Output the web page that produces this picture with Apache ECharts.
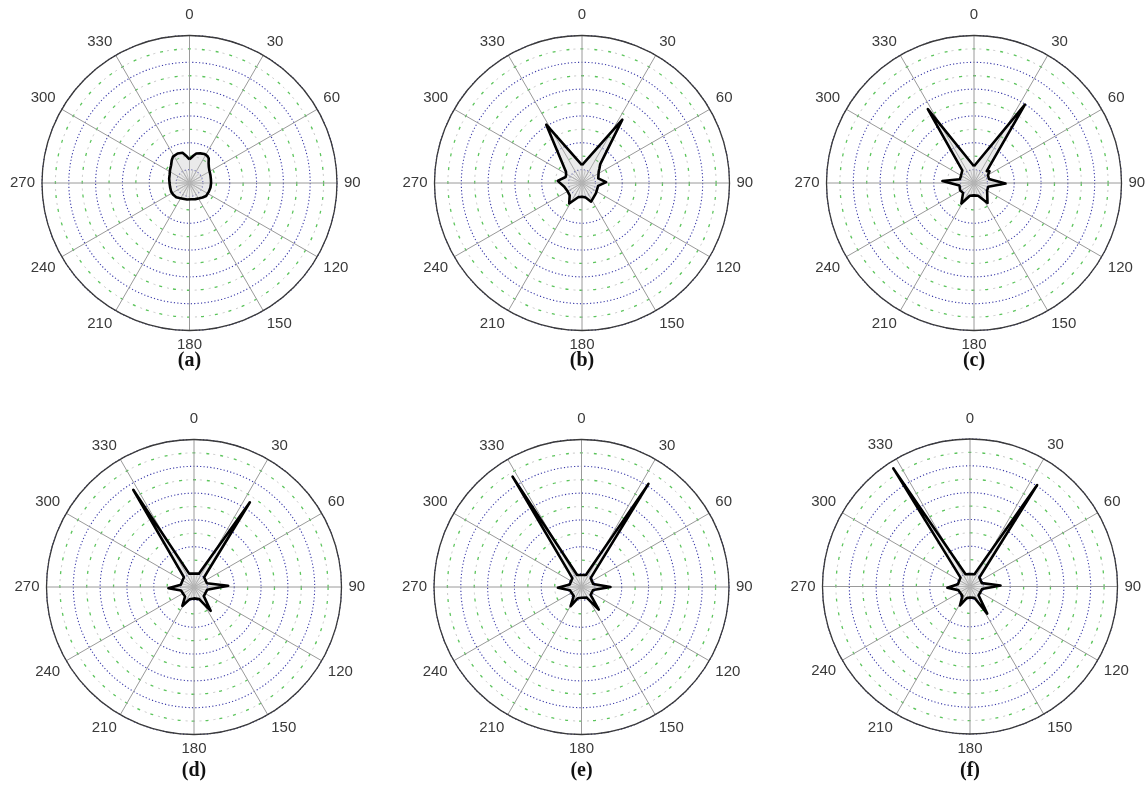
<!DOCTYPE html>
<html><head><meta charset="utf-8">
<script src="https://cdn.jsdelivr.net/npm/echarts@6/dist/echarts.min.js"></script>
<style>html,body{margin:0;padding:0;background:#fff}#c{width:1145px;height:785px}</style>
</head><body><div id="c"></div>
<script>
// Angle tick labels (degrees, clockwise from top)
const angleTicks = [0, 30, 60, 90, 120, 150, 180, 210, 240, 270, 300, 330];
const panelLabels = ['(a)', '(b)', '(c)', '(d)', '(e)', '(f)'];
const radiusMax = 11;

// Outline vertices of each panel: [angle in degrees, radius]
const plotA = [[0,1.76],[8,2.05],[13,2.26],[20,2.35],[27,2.43],[33,2.42],[38,2.33],[44,2.05],[50,1.88],[58,1.75],[69,1.67],[80,1.62],[90,1.61],[102,1.6],[114,1.58],[128,1.57],[138,1.45],[147,1.36],[160,1.28],[174,1.22],[188,1.24],[203,1.27],[214,1.35],[223,1.45],[235,1.5],[245,1.51],[258,1.48],[270,1.49],[282,1.55],[292,1.6],[304,1.75],[314,1.91],[322,2.15],[328,2.32],[338,2.37],[347,2.31],[354,2.0]];
const plotB = [[0,1.34],[32.5,5.6],[44,1.96],[50,1.7],[56,1.5],[74,1.26],[88,1.8],[100,1.22],[126,1.29],[154,1.55],[166,1.12],[180,1.02],[195,1.1],[212,1.8],[225,1.3],[240,1.24],[258,1.35],[275,1.82],[290,1.3],[297,1.33],[305,1.46],[328.5,5.1]];
const plotC = [[0,1.25],[33,6.97],[47,1.3],[53,1.45],[60,1.2],[75,1.15],[91,2.35],[105,1.1],[120,1.13],[146,1.8],[162,1.0],[180,0.92],[198,1.0],[211.5,1.8],[228,1.1],[242,1.17],[260,1.1],[273.5,2.36],[285,1.1],[294,1.09],[317,1.28],[328,6.5]];
const plotD = [[0,1.0],[20,1.06],[33.4,7.57],[46,1.05],[74,1.0],[88,2.55],[102,1.0],[133,1.0],[145,2.17],[157,0.98],[180,0.85],[200,0.98],[211.6,1.66],[223,0.98],[255,1.0],[267,1.91],[280,1.0],[314,1.05],[328,8.55],[340,1.06]];
const plotE = [[0,0.9],[20,0.95],[33,9.17],[46,0.95],[76,0.9],[90,2.16],[104,0.9],[131,0.9],[142.6,2.12],[154,0.88],[180,0.8],[198,0.88],[209.6,1.65],[221,0.88],[254,0.9],[268,1.76],[282,0.9],[314,0.95],[328,9.7],[340,0.95]];
const plotF = [[0,0.92],[20,0.97],[33.5,9.07],[46,0.97],[74,0.92],[88,2.28],[102,0.92],[136,0.92],[147.6,2.4],[159,0.9],[180,0.82],[196,0.9],[207.8,1.6],[219,0.9],[253,0.92],[267,1.69],[281,0.92],[313,0.97],[327,10.5],[340,0.97]];
const plots = [plotA, plotB, plotC, plotD, plotE, plotF];

// layout (pixels)
const centers = [[189.5,183],[582,183],[974,183],[194,587],[581.5,587],[970,586.5]];
const R = 147.5;
const labelTops = [351,351,351,761,761,761];

const chart = echarts.init(document.getElementById('c'), null, {renderer:'canvas'});
const polar = [], angleAxis = [], radiusAxis = [], series = [], title = [];
const font = 'Liberation Sans, Arial, sans-serif';
const hidden = {axisLine:{show:false}, axisTick:{show:false}, axisLabel:{show:false}};

function ringAxis(idx, colors, width, type, offset) {
  return Object.assign({
    polarIndex: idx, type:'value', min:0, max:radiusMax, interval:1,
    splitLine:{show:true, lineStyle:{color:colors, width:width, type:type, dashOffset:offset||0}}
  }, hidden);
}

plots.forEach((pts, k) => {
  const c = centers[k];
  const base = polar.length;
  // main polar: spokes, outer circle, labels, green dashed rings (even radii)
  polar.push({center:[c[0], c[1]], radius: R});
  angleAxis.push({
    polarIndex: base, type:'value', min:0, max:360, interval:30, startAngle:90, clockwise:true,
    axisLine:{show:true, lineStyle:{color:'#3a3a3a', width:1.3}},
    axisTick:{show:false},
    axisLabel:{
      show:true, margin:7, color:'#3a3a3a', fontSize:15, fontFamily:font,
      formatter: v => v === 360 ? '' : (v === 0 ? '{top|0}' : String(v)),
      rich:{top:{padding:[0,0,6,0], fontSize:15, color:'#3a3a3a', fontFamily:font}}
    },
    splitLine:{show:true, lineStyle:{color:'#9a9a9a', width:1}}
  });
  radiusAxis.push(ringAxis(base, ['#5cc45c','rgba(0,0,0,0)'], 1.3, [3,11], 0));
  // overlay polar: blue dotted rings (odd radii)
  polar.push({center:[c[0], c[1]], radius: R});
  angleAxis.push({polarIndex: base+1, type:'value', min:0, max:360, startAngle:90, show:false});
  radiusAxis.push(ringAxis(base+1, ['rgba(0,0,0,0)','#3a3aa8'], 1.1, [1.2,2.2], 0));
  // overlay polar: faint grey dashes between the green ones (even radii)
  polar.push({center:[c[0], c[1]], radius: R});
  angleAxis.push({polarIndex: base+2, type:'value', min:0, max:360, startAngle:90, show:false});
  radiusAxis.push(ringAxis(base+2, ['#c8c8c8','rgba(0,0,0,0)'], 1, [2,12], -7));
  // inner star of fine spokes
  polar.push({center:[c[0], c[1]], radius: R / radiusMax});
  angleAxis.push(Object.assign({
    polarIndex: base+3, type:'value', min:0, max:360, interval:15, startAngle:90,
    splitLine:{show:true, lineStyle:{color:'#aaa', width:0.7}}
  }, hidden));
  radiusAxis.push({polarIndex: base+3, type:'value', min:0, max:1, show:false, splitLine:{show:false}});

  const data = pts.map(p => [p[1], p[0]]);
  data.push([pts[0][1], pts[0][0]]);
  series.push({
    type:'line', coordinateSystem:'polar', polarIndex: base, data: data,
    symbol:'none', z:5, animation:false,
    lineStyle:{color:'#000', width:2.6, join:'round'},
    areaStyle:{color:'rgba(195,195,195,0.5)'}
  });
  title.push({
    text: panelLabels[k], left: c[0], top: labelTops[k], textAlign:'center', padding:0,
    textStyle:{fontFamily:'Liberation Serif, Times New Roman, serif', fontWeight:'bold', fontSize:20, color:'#111'}
  });
});

chart.setOption({animation:false, backgroundColor:'#fff', title, polar, angleAxis, radiusAxis, series});
</script></body></html>
